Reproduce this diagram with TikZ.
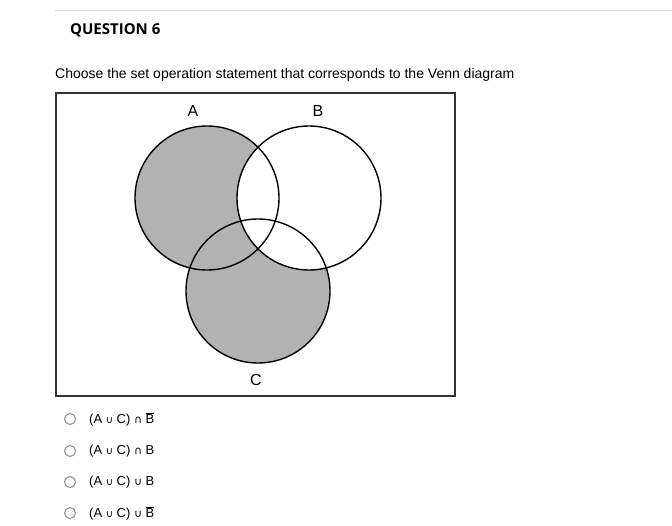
\documentclass[tikz,border=0pt]{standalone}
\usepackage{fontspec}
\setmainfont{Liberation Sans}
\newfontfamily\titlefont{Open Sans}
\newfontfamily\symfont{DejaVu Sans}
\begin{document}
\begin{tikzpicture}[x=1pt,y=-1pt,
  circ/.style={draw=black,line width=1.4pt},
  opt/.style={draw=gray!80,line width=1.2pt},
  lbl/.style={anchor=west,inner sep=0pt,font=\fontsize{13}{13}\selectfont}]
\useasboundingbox (0,0) rectangle (672,525);
\draw[gray!30] (55,10) -- (672,10);
\node[anchor=west,inner sep=0pt,font=\titlefont\bfseries\fontsize{15}{15}\selectfont] (title) at (70,30) {QUESTION 6};
\node[anchor=west,inner sep=0pt,font=\fontsize{14}{14}\selectfont] (q) at (55,75) {Choose the set operation statement that corresponds to the Venn diagram};
\draw[line width=1.3pt,draw=black!80] (56,93) rectangle (455,396);
\fill[gray!60] (207,198) circle (72);
\fill[gray!60] (258,291) circle (72);
\fill[white] (309,198) circle (72);
\draw[circ] (207,198) circle (72);
\draw[circ] (309,198) circle (72);
\draw[circ] (258,291) circle (72);
\node[font=\fontsize{16}{16}\selectfont] (A) at (193,111) {A};
\node[font=\fontsize{16}{16}\selectfont] (B) at (318,111) {B};
\node[font=\fontsize{16}{16}\selectfont] (C) at (256,380) {C};
\foreach \y/\op/\b [count=\i] in {419/∩/1,451/∩/0,482/∪/0,513/∪/1}{
  \draw[opt] (70,\y) circle (5.5);
  \node[lbl] (o\i) at (89,\y) {(A {\symfont\fontsize{10}{10}\selectfont ∪} C) {\symfont\fontsize{11}{11}\selectfont\op} \ifnum\b=1 $\overline{\mbox{B}}$\else B\fi};
}
\end{tikzpicture}
\end{document}
